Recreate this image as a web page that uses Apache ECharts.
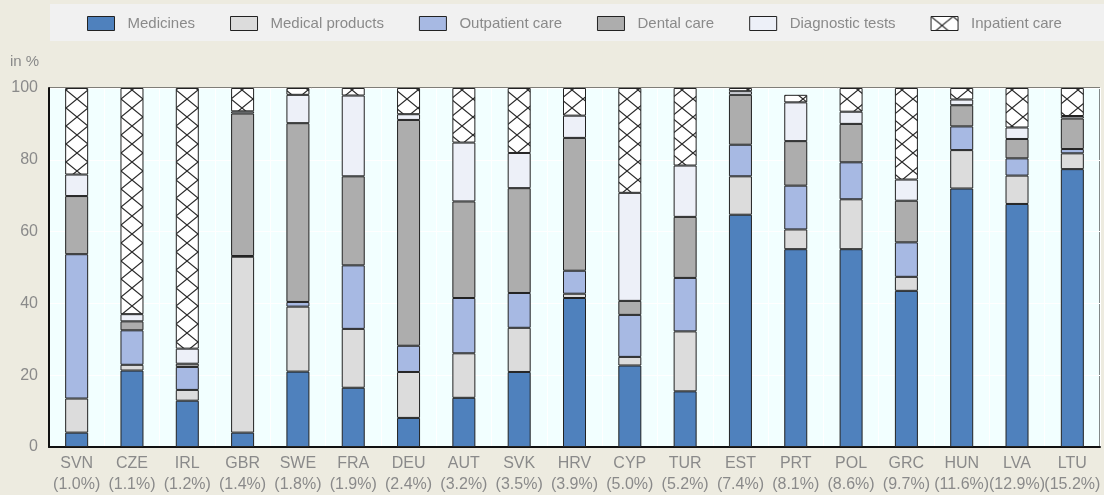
<!DOCTYPE html>
<html>
<head>
<meta charset="utf-8">
<script src="https://cdn.jsdelivr.net/npm/echarts@6/dist/echarts.min.js"></script>
<style>
  html, body { margin: 0; padding: 0; background: #EDEBE0; }
  #chart { width: 1104px; height: 495px; }
</style>
</head>
<body>
<div id="chart"></div>
<script>
// Countries and their share shown under each code
const countries = ['SVN','CZE','IRL','GBR','SWE','FRA','DEU','AUT','SVK','HRV','CYP','TUR','EST','PRT','POL','GRC','HUN','LVA','LTU'];
const shares    = ['1.0%','1.1%','1.2%','1.4%','1.8%','1.9%','2.4%','3.2%','3.5%','3.9%','5.0%','5.2%','7.4%','8.1%','8.6%','9.7%','11.6%','12.9%','15.2%'];

// Breakdown by type of spending, in %
const medicines       = [4.0, 21.3, 12.9, 4.0, 21.0, 16.5, 8.1, 13.7, 20.9, 41.5, 22.7, 15.5, 64.7, 55.1, 55.1, 43.5, 72.0, 67.7, 77.4];
const medicalProducts = [9.5, 1.6, 3.0, 49.0, 18.1, 16.4, 12.8, 12.4, 12.3, 1.2, 2.4, 16.7, 10.7, 5.5, 13.9, 3.9, 10.7, 7.9, 4.4];
const outpatientCare  = [40.2, 9.6, 6.4, 0.2, 1.3, 17.7, 7.3, 15.4, 9.7, 6.4, 11.7, 14.9, 8.8, 12.2, 10.3, 9.6, 6.6, 4.8, 1.2];
const dentalCare      = [16.2, 2.5, 0.9, 39.7, 49.8, 24.8, 62.9, 26.9, 29.2, 37.0, 3.9, 17.0, 13.9, 12.4, 10.7, 11.6, 5.9, 5.4, 8.5];
const diagnosticTests = [6.0, 2.0, 4.2, 0.6, 7.9, 22.5, 1.6, 16.4, 9.8, 6.2, 30.1, 14.3, 1.0, 10.8, 3.4, 5.9, 1.6, 3.2, 0.7];
const inpatientCare   = [24.1, 63.0, 72.6, 6.5, 1.9, 2.1, 7.3, 15.2, 18.1, 7.7, 29.2, 21.6, 0.9, 2.1, 6.6, 25.5, 3.2, 11.0, 7.8];

const yTicks = { min: 0, max: 100, interval: 20 };

// Cross-hatch tile for the inpatient segments
function hatchTile() {
  const w = 22, h = 18;
  const c = document.createElement('canvas');
  c.width = w; c.height = h;
  const g = c.getContext('2d');
  g.fillStyle = '#ffffff';
  g.fillRect(0, 0, w, h);
  g.strokeStyle = '#2a2a2a';
  g.lineWidth = 1.2;
  g.beginPath();
  g.moveTo(0, 0); g.lineTo(w, h);
  g.moveTo(w, 0); g.lineTo(0, h);
  g.stroke();
  return c;
}

const FONT = '"Liberation Sans", Arial, sans-serif';
const TXT = '#8a8a8a';
const border = { borderColor: '#222', borderWidth: 1 };

function bar(name, data, color) {
  return {
    name, type: 'bar', stack: 'total', data, barWidth: 23,
    itemStyle: Object.assign({ color }, border),
    emphasis: { disabled: true }
  };
}

const chart = echarts.init(document.getElementById('chart'), null, { renderer: 'canvas' });
chart.setOption({
  backgroundColor: '#EDEBE0',
  animation: false,
  textStyle: { fontFamily: FONT },
  graphic: [
    { type: 'rect', z: 0, shape: { x: 50, y: 4, width: 1054, height: 37 }, style: { fill: '#F1F1F1' } },
    { type: 'text', z: 5, left: 10, top: 54, style: { text: 'in %', fill: TXT, font: '15px ' + FONT } }
  ],
  legend: {
    z: 10,
    left: 82, top: 11,
    itemWidth: 27, itemHeight: 14, itemGap: 35,
    icon: 'rect',
    selectedMode: false,
    textStyle: { color: TXT, fontSize: 15, fontFamily: FONT, padding: [0, 0, 0, 8] },
    itemStyle: { borderColor: '#222', borderWidth: 1 }
  },
  grid: {
    left: 49, right: 4, top: 88, bottom: 47,
    show: true, backgroundColor: '#F2FFFF', borderColor: '#111', borderWidth: 1
  },
  xAxis: {
    type: 'category', data: countries,
    axisLine: { lineStyle: { color: '#111', width: 2 } },
    axisTick: { inside: true, length: 5, lineStyle: { color: '#111', width: 2 } },
    splitLine: { show: true, interval: 0, lineStyle: { color: '#ffffff', width: 1 } },
    axisLabel: {
      interval: 0,
      color: TXT, fontSize: 16, fontFamily: FONT, lineHeight: 21, margin: 6,
      formatter: (v, i) => v + '\n(' + shares[i] + ')'
    }
  },
  yAxis: {
    type: 'value', min: yTicks.min, max: yTicks.max, interval: yTicks.interval,
    axisLine: { show: true, lineStyle: { color: '#111', width: 2 } },
    axisTick: { show: false },
    splitLine: { lineStyle: { color: '#ffffff', width: 1 } },
    axisLabel: { color: TXT, fontSize: 16, fontFamily: FONT, margin: 11 }
  },
  series: [
    bar('Medicines', medicines, '#4F81BD'),
    bar('Medical products', medicalProducts, '#DCDCDC'),
    bar('Outpatient care', outpatientCare, '#A7B9E3'),
    bar('Dental care', dentalCare, '#ADADAD'),
    bar('Diagnostic tests', diagnosticTests, '#EDF0F8'),
    bar('Inpatient care', inpatientCare, { image: hatchTile(), repeat: 'repeat' })
  ]
});
</script>
</body>
</html>
